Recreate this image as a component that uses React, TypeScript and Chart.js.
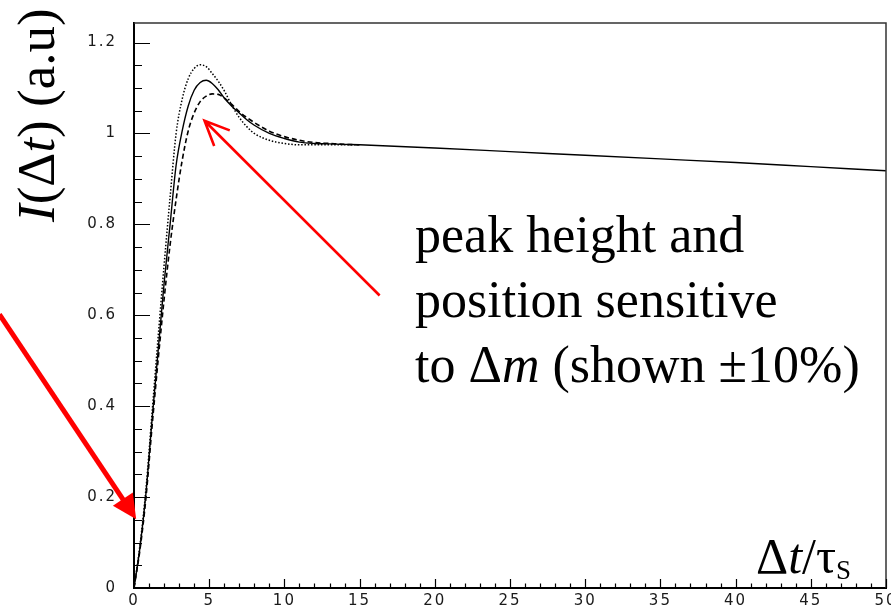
import React, { useEffect, useRef } from "react";
import { Chart, registerables } from "chart.js";
Chart.register(...registerables);

// ---- data ----
const peakTimes = [0, 0.4, 0.8, 1.2, 1.6, 2.0, 2.4, 2.8, 3.2, 3.6, 4.0, 4.4, 4.8, 5.2, 5.6, 6.0, 6.5, 7.0, 7.5, 8, 9, 10, 11, 12, 13, 14, 15];
const nominal = [0, 0.09, 0.21, 0.37, 0.52, 0.67, 0.8, 0.93, 1.005, 1.06, 1.095, 1.112, 1.117, 1.11, 1.096, 1.078, 1.06, 1.045, 1.03, 1.018, 1.0, 0.989, 0.981, 0.978, 0.977, 0.976, 0.975];
const dmPlus = [0, 0.095, 0.22, 0.385, 0.55, 0.71, 0.86, 1.0, 1.075, 1.12, 1.143, 1.151, 1.147, 1.132, 1.115, 1.094, 1.062, 1.035, 1.015, 1.0, 0.985, 0.978, 0.975, 0.975, 0.975, 0.975, 0.975];
const dmMinus = [0, 0.085, 0.2, 0.355, 0.5, 0.635, 0.755, 0.855, 0.94, 1.005, 1.045, 1.07, 1.082, 1.087, 1.086, 1.078, 1.064, 1.048, 1.035, 1.024, 1.005, 0.993, 0.985, 0.98, 0.978, 0.976, 0.975];
const tailTimes = [20, 25, 30, 35, 40, 45, 50];
const tailNominal = [0.968, 0.96, 0.952, 0.944, 0.936, 0.927, 0.918];

const xTicks = [0, 5, 10, 15, 20, 25, 30, 35, 40, 45, 50];
const xTickLabels = ["0", "5", "10", "15", "20", "25", "30", "35", "40", "45", "50"];
const yTicks = [0, 0.2, 0.4, 0.6, 0.8, 1.0, 1.2];
const yTickLabels = ["0", "0.2", "0.4", "0.6", "0.8", "1", "1.2"];
const xMinorStep = 1;
const yMinorStep = 0.05;

// annotation arrows, in data coordinates [t, I]
const arrowPeakFrom = [16.33, 0.6435];
const arrowPeakTo = [4.69, 1.028];
const arrowRiseFrom = [-8.95, 0.602];
const arrowRiseTo = [0.146, 0.1515];

const SERIF = '"Liberation Serif", "Times New Roman", serif';
const TICKFONT = '"DejaVu Sans", Arial, sans-serif';

type Run = { t: string; it?: boolean; size: number };
function drawRuns(ctx: CanvasRenderingContext2D, x: number, y: number, runs: Run[]) {
  let cx = x;
  for (const r of runs) {
    ctx.font = `${r.it ? "italic " : ""}${r.size}px ${SERIF}`;
    ctx.fillText(r.t, cx, y);
    cx += ctx.measureText(r.t).width;
  }
  return cx;
}

const decorPlugin = {
  id: "decor",
  beforeDraw(chart: any) {
    (chart.ctx as any).letterSpacing = "2px";
  },
  afterDraw(chart: any) {
    const { ctx, chartArea: a, scales } = chart;
    (ctx as any).letterSpacing = "0px";
    const xs = scales.x, ys = scales.y;
    ctx.save();
    // frame top & right
    ctx.strokeStyle = "#333";
    ctx.lineWidth = 1.5;
    ctx.beginPath();
    ctx.moveTo(a.left, a.top);
    ctx.lineTo(a.right, a.top);
    ctx.lineTo(a.right, a.bottom);
    ctx.stroke();
    // inward ticks
    ctx.strokeStyle = "#000";
    ctx.lineWidth = 1.2;
    ctx.beginPath();
    for (let v = xs.min; v <= xs.max + 1e-9; v += xMinorStep) {
      const px = Math.round(xs.getPixelForValue(v)) + 0.5;
      const major = xTicks.some((t) => Math.abs(t - v) < 1e-6);
      ctx.moveTo(px, a.bottom);
      ctx.lineTo(px, a.bottom - (major ? 9 : 4.5));
    }
    for (let v = 0; v <= ys.max + 1e-9; v += yMinorStep) {
      const py = Math.round(ys.getPixelForValue(v)) + 0.5;
      const major = yTicks.some((t) => Math.abs(t - v) < 1e-6);
      ctx.moveTo(a.left, py);
      ctx.lineTo(a.left + (major ? 16 : 8), py);
    }
    ctx.stroke();

    // arrows
    const P = (d: number[]) => [xs.getPixelForValue(d[0]), ys.getPixelForValue(d[1])];
    ctx.strokeStyle = "#ff0000";
    ctx.fillStyle = "#ff0000";
    {
      const [x1, y1] = P(arrowPeakFrom);
      const [x2, y2] = P(arrowPeakTo);
      const ang = Math.atan2(y2 - y1, x2 - x1);
      ctx.lineWidth = 2.6;
      ctx.lineCap = "butt";
      ctx.beginPath();
      ctx.moveTo(x1, y1);
      ctx.lineTo(x2, y2);
      const L = 27, w = 0.42;
      ctx.moveTo(x2 - L * Math.cos(ang - w), y2 - L * Math.sin(ang - w));
      ctx.lineTo(x2, y2);
      ctx.lineTo(x2 - L * Math.cos(ang + w), y2 - L * Math.sin(ang + w));
      ctx.stroke();
    }
    {
      const [x1, y1] = P(arrowRiseFrom);
      const [x2, y2] = P(arrowRiseTo);
      const ang = Math.atan2(y2 - y1, x2 - x1);
      const L = 24, hw = 12;
      const bx = x2 - L * Math.cos(ang), by = y2 - L * Math.sin(ang);
      ctx.lineWidth = 5;
      ctx.beginPath();
      ctx.moveTo(x1, y1);
      ctx.lineTo(bx + 2 * Math.cos(ang), by + 2 * Math.sin(ang));
      ctx.stroke();
      ctx.beginPath();
      ctx.moveTo(x2, y2);
      ctx.lineTo(bx + hw * Math.sin(ang), by - hw * Math.cos(ang));
      ctx.lineTo(bx - hw * Math.sin(ang), by + hw * Math.cos(ang));
      ctx.closePath();
      ctx.fill();
    }

    // texts
    ctx.fillStyle = "#000";
    ctx.textBaseline = "alphabetic";
    ctx.textAlign = "left";
    drawRuns(ctx, 415, 252, [{ t: "peak height and", size: 52 }]);
    drawRuns(ctx, 415, 317, [{ t: "position sensitive", size: 52 }]);
    drawRuns(ctx, 415, 382, [
      { t: "to \u0394", size: 52 },
      { t: "m", it: true, size: 52 },
      { t: " (shown \u00b110%)", size: 52 },
    ]);
    const ex = drawRuns(ctx, 756, 573, [
      { t: "\u0394", size: 50 },
      { t: "t", it: true, size: 50 },
      { t: "/\u03c4", size: 50 },
    ]);
    drawRuns(ctx, ex, 579, [{ t: "S", size: 27 }]);

    ctx.save();
    ctx.translate(54, 222);
    ctx.rotate(-Math.PI / 2);
    drawRuns(ctx, 0, 0, [
      { t: "I", it: true, size: 53 },
      { t: "(\u0394", size: 53 },
      { t: "t", it: true, size: 53 },
      { t: ") (a.u)", size: 53 },
    ]);
    ctx.restore();
    ctx.restore();
  },
};

function pts(xs: number[], ys: number[]) {
  return xs.map((x, i) => ({ x, y: ys[i] }));
}

export default function App() {
  const ref = useRef<HTMLCanvasElement>(null);
  useEffect(() => {
    document.body.style.margin = "0";
    const canvas = ref.current!;
    const chart = new Chart(canvas, {
      type: "line",
      data: {
        datasets: [
          {
            label: "\u0394m +10%",
            data: pts(peakTimes, dmPlus),
            borderColor: "#000",
            borderWidth: 1.5,
            borderDash: [1.5, 1.8],
            pointRadius: 0,
            cubicInterpolationMode: "monotone",
          },
          {
            label: "\u0394m -10%",
            data: pts(peakTimes, dmMinus),
            borderColor: "#000",
            borderWidth: 1.6,
            borderDash: [5, 3],
            pointRadius: 0,
            cubicInterpolationMode: "monotone",
          },
          {
            label: "nominal",
            data: pts(peakTimes.concat(tailTimes), nominal.concat(tailNominal)),
            borderColor: "#000",
            borderWidth: 1.4,
            pointRadius: 0,
            cubicInterpolationMode: "monotone",
          },
        ],
      },
      options: {
        animation: false,
        responsive: false,
        devicePixelRatio: 1,
        parsing: false as any,
        layout: { padding: { top: 23, right: 5, left: 0, bottom: 0 } },
        plugins: { legend: { display: false }, tooltip: { enabled: false } },
        scales: {
          x: {
            type: "linear",
            min: 0,
            max: 50,
            grid: { display: false, drawTicks: false },
            border: { display: true, color: "#000", width: 2 },
            ticks: {
              padding: 4,
              color: "#1a1a1a",
              font: { family: TICKFONT, size: 15 },
              maxRotation: 0,
              autoSkip: false,
              includeBounds: false,
              callback: (v: any, i: number) => xTickLabels[i],
            },
            afterBuildTicks: (s: any) => {
              s.ticks = xTicks.map((v) => ({ value: v }));
            },
            afterFit: (s: any) => {
              s.height = 22;
              s.paddingLeft = 0;
              s.paddingRight = 0;
            },
          },
          y: {
            type: "linear",
            min: 0,
            max: 1.243,
            grid: { display: false, drawTicks: false },
            border: { display: true, color: "#000", width: 2 },
            ticks: {
              padding: 17,
              color: "#1a1a1a",
              font: { family: TICKFONT, size: 15 },
              autoSkip: false,
              includeBounds: false,
              callback: (v: any, i: number) => yTickLabels[i],
            },
            afterBuildTicks: (s: any) => {
              s.ticks = yTicks.map((v) => ({ value: v }));
            },
            afterFit: (s: any) => {
              s.width = 134;
              s.paddingTop = 0;
              s.paddingBottom = 0;
            },
          },
        },
      },
      plugins: [decorPlugin],
    } as any);
    return () => chart.destroy();
  }, []);
  return (
    <canvas
      ref={ref}
      width={891}
      height={610}
      style={{ display: "block", width: 891, height: 610 }}
    />
  );
}
